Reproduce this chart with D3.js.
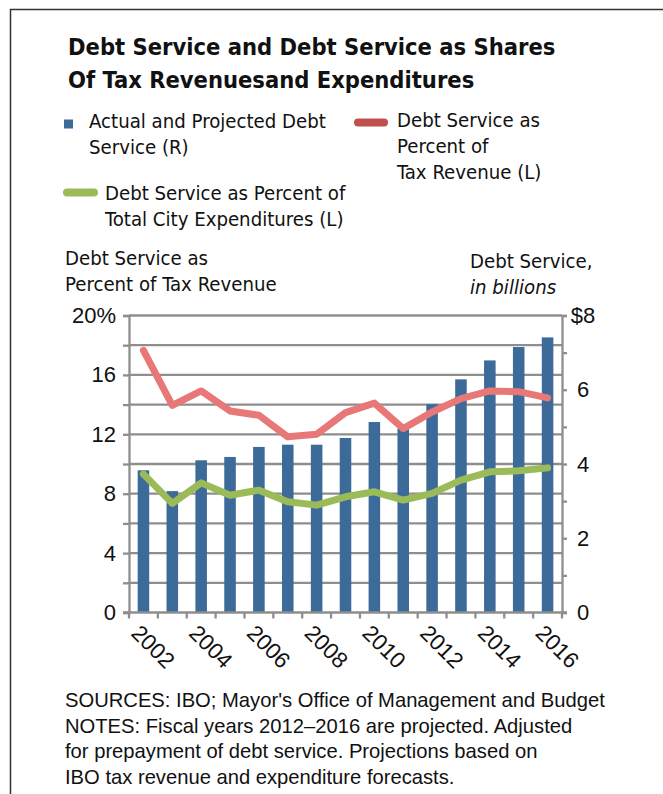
<!DOCTYPE html>
<html>
<head>
<meta charset="utf-8">
<script src="https://cdn.jsdelivr.net/npm/d3@7"></script>
<style>
  body { margin: 0; background: #fff; }
  .narrow { font-family: "Liberation Sans Narrow", "Arial Narrow", "DejaVu Sans Condensed", sans-serif; }
  .tick text { font-family: "Liberation Sans", Arial, sans-serif; font-size: 22px; fill: #111; }
</style>
</head>
<body>
<svg id="chart" width="663" height="794"></svg>
<script>
// years on the x axis, every other one labelled
const years = d3.range(2002, 2017);
const yearLabels = ["2002", "2004", "2006", "2008", "2010", "2012", "2014", "2016"];

// actual and projected debt service, $ billions (right axis)
const debtService = [3.83, 3.27, 4.10, 4.19, 4.46, 4.52, 4.52, 4.70, 5.13, 4.95, 5.61, 6.28, 6.79, 7.15, 7.41];
// debt service as percent of tax revenue (left axis)
const pctTaxRevenue = [17.65, 13.95, 14.92, 13.57, 13.28, 11.83, 12.0, 13.46, 14.1, 12.38, 13.5, 14.4, 14.92, 14.87, 14.45];
// debt service as percent of total city expenditures (left axis)
const pctExpenditures = [9.32, 7.35, 8.73, 7.9, 8.24, 7.46, 7.23, 7.79, 8.13, 7.57, 8.02, 8.91, 9.47, 9.54, 9.74];

const leftTicks = [0, 2, 4, 6, 8, 10, 12, 14, 16, 18, 20];
const leftLabels = { 0: "0", 4: "4", 8: "8", 12: "12", 16: "16", 20: "20%" };
const rightTicks = [0, 1, 2, 3, 4, 5, 6, 7, 8];
const rightLabels = { 0: "0", 2: "2", 4: "4", 6: "6", 8: "$8" };

const svg = d3.select("#chart");
const plotLeft = 129, plotRight = 562, plotTop = 315.5, plotBottom = 612.5;
const gray = "#8e8e8e";

// frame
svg.append("path")
    .attr("d", "M10.5,794 L10.5,9.5 L663,9.5")
    .attr("fill", "none").attr("stroke", "#333").attr("stroke-width", 1.5);

// title
const title = svg.append("text").attr("class", "narrow")
    .attr("font-size", 23.5).attr("font-weight", "bold").attr("fill", "#111");
title.append("tspan").attr("x", 68).attr("y", 55).text("Debt Service and Debt Service as Shares");
title.append("tspan").attr("x", 68).attr("y", 88).text("Of Tax Revenuesand Expenditures");

// legend
function textBlock(x, y, lines, size, italicLast) {
    const t = svg.append("text").attr("class", "narrow").attr("font-size", size).attr("fill", "#111");
    lines.forEach((line, i) => {
        t.append("tspan").attr("x", x).attr("y", y[i]).text(line)
            .attr("font-style", italicLast && i === lines.length - 1 ? "italic" : null);
    });
}
svg.append("rect").attr("x", 64).attr("y", 119.5).attr("width", 9).attr("height", 9).attr("fill", "#3d6b99");
textBlock(89, [128, 154], ["Actual and Projected Debt", "Service (R)"], 20.2);
svg.append("line").attr("x1", 358).attr("x2", 384).attr("y1", 122.5).attr("y2", 122.5)
    .attr("stroke", "#c0504d").attr("stroke-width", 8).attr("stroke-linecap", "round");
textBlock(397, [127, 153, 179], ["Debt Service as", "Percent of", "Tax Revenue (L)"], 20.2);
svg.append("line").attr("x1", 67).attr("x2", 94).attr("y1", 192.5).attr("y2", 192.5)
    .attr("stroke", "#9bbb59").attr("stroke-width", 8).attr("stroke-linecap", "round");
textBlock(105, [200, 226], ["Debt Service as Percent of", "Total City Expenditures (L)"], 20.2);

// axis titles
textBlock(65, [265, 291], ["Debt Service as", "Percent of Tax Revenue"], 20.2);
textBlock(470, [268, 294], ["Debt Service,", "in billions"], 20.2, true);

// scales
const x = d3.scaleBand().domain(years).range([plotLeft, plotRight]).paddingInner(0.6).paddingOuter(0.3);
const yL = d3.scaleLinear().domain([0, 20]).range([plotBottom, plotTop]);
const yR = d3.scaleLinear().domain([0, 8]).range([plotBottom, plotTop]);
const cx = d => x(d) + x.bandwidth() / 2;

// horizontal gridlines every 2%
svg.append("g").selectAll("line").data(leftTicks.filter(d => d > 0)).join("line")
    .attr("x1", plotLeft).attr("x2", plotRight)
    .attr("y1", d => yL(d)).attr("y2", d => yL(d))
    .attr("stroke", gray).attr("stroke-width", 2.3);

// bars
svg.append("g").selectAll("rect").data(years).join("rect")
    .attr("x", d => x(d))
    .attr("width", x.bandwidth())
    .attr("y", (d, i) => yR(debtService[i]))
    .attr("height", (d, i) => plotBottom - yR(debtService[i]))
    .attr("fill", "#3d6b99");

// lines
const line = d3.line().x((d, i) => cx(years[i])).y(d => yL(d));
svg.append("path").datum(pctTaxRevenue).attr("d", line)
    .attr("fill", "none").attr("stroke", "#e87878").attr("stroke-width", 7)
    .attr("stroke-linejoin", "round").attr("stroke-linecap", "round");
svg.append("path").datum(pctExpenditures).attr("d", line)
    .attr("fill", "none").attr("stroke", "#9bbb59").attr("stroke-width", 7)
    .attr("stroke-linejoin", "round").attr("stroke-linecap", "round");

// left axis
const gL = svg.append("g").attr("transform", `translate(${plotLeft},0)`)
    .call(d3.axisLeft(yL).tickValues(leftTicks).tickSize(6).tickPadding(7)
        .tickFormat(d => leftLabels[d] || ""));
// right axis
const gR = svg.append("g").attr("transform", `translate(${plotRight},0)`)
    .call(d3.axisRight(yR).tickValues(rightTicks).tickSize(5).tickPadding(16)
        .tickFormat(d => rightLabels[d] || ""));
gR.selectAll(".tick text").attr("text-anchor", "middle");
[gL, gR].forEach(g => {
    g.select(".domain").attr("stroke", gray).attr("stroke-width", 2.3);
    g.selectAll(".tick line").attr("stroke", gray).attr("stroke-width", 2.3);
});

// bottom axis: line, ticks between the bars, rotated year labels
const step = x.step();
const bounds = years.map(d => cx(d) - step / 2).concat([cx(years[years.length - 1]) + step / 2]);
svg.append("line").attr("x1", plotLeft - 6).attr("x2", plotRight + 5).attr("y1", plotBottom).attr("y2", plotBottom)
    .attr("stroke", gray).attr("stroke-width", 2.3);
svg.append("g").selectAll("line").data(bounds).join("line")
    .attr("x1", d => d).attr("x2", d => d).attr("y1", plotBottom).attr("y2", plotBottom + 6)
    .attr("stroke", gray).attr("stroke-width", 2.3);
svg.append("g").selectAll("text").data(yearLabels).join("text")
    .attr("transform", d => `translate(${cx(+d)},${plotBottom}) rotate(45)`)
    .attr("x", 6).attr("y", 25)
    .attr("font-family", "Liberation Sans, Arial, sans-serif").attr("font-size", 22.5).attr("fill", "#111")
    .text(d => d);

// notes
const notes = svg.append("text").attr("font-family", "Liberation Sans, Arial, sans-serif")
    .attr("font-size", 20.2).attr("fill", "#111");
["SOURCES: IBO; Mayor's Office of Management and Budget",
 "NOTES: Fiscal years 2012\u20132016 are projected. Adjusted",
 "for prepayment of debt service. Projections based on",
 "IBO tax revenue and expenditure forecasts."].forEach((t, i) => {
    notes.append("tspan").attr("x", 65).attr("y", 707 + i * 25.7).text(t);
});
</script>
</body>
</html>
